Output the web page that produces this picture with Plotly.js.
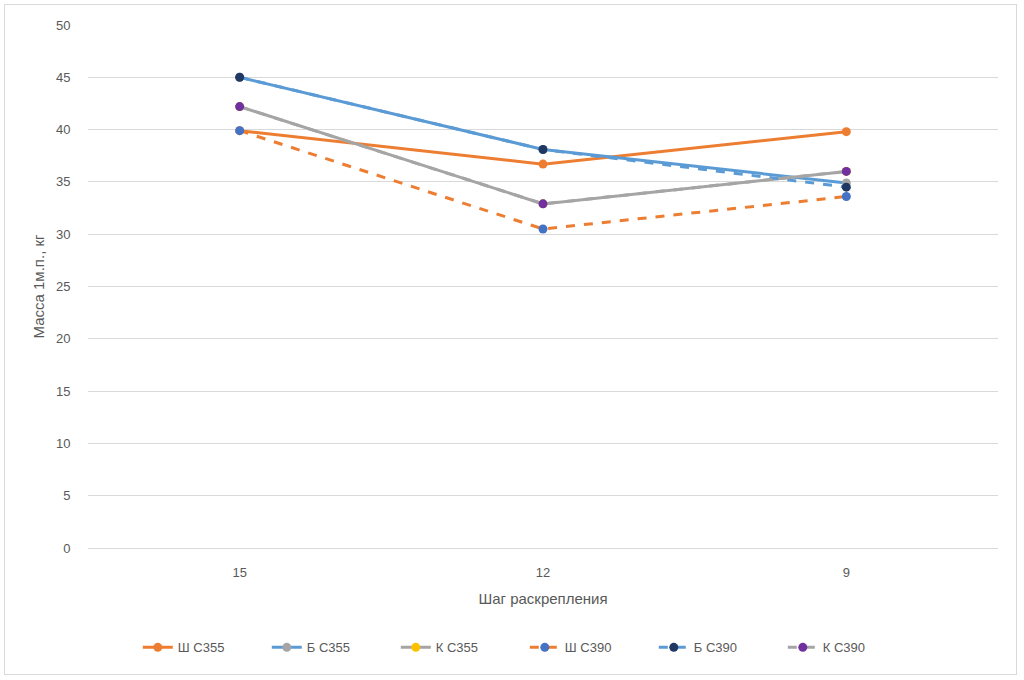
<!DOCTYPE html>
<html><head><meta charset="utf-8">
<script src="https://cdn.plot.ly/plotly-3.0.1.min.js"></script>
<style>
html,body{margin:0;padding:0;background:#fff;}
#frame{position:absolute;left:4px;top:4px;width:1013px;height:671px;border:1px solid #d9d9d9;box-sizing:border-box;}
#chart{position:absolute;left:0;top:0;width:1024px;height:680px;}
</style></head>
<body>
<div id="frame"></div>
<div id="chart"></div>
<script>
const categories = ['15', '12', '9'];
const seriesNames = ['Ш С355', 'Б С355', 'К С355', 'Ш С390', 'Б С390', 'К С390'];
const sh355 = [39.9, 36.7, 39.8];
const b355 = [45.0, 38.1, 34.9];
const k355 = [42.2, 32.9, 36.0];
const sh390 = [39.9, 30.5, 33.6];
const b390 = [45.0, 38.1, 34.5];
const k390 = [42.2, 32.9, 36.0];

const values = [sh355, b355, k355, sh390, b390, k390];
const lineColors = ['#ED7D31', '#5B9BD5', '#A5A5A5', '#ED7D31', '#5B9BD5', '#A5A5A5'];
const markerColors = ['#ED7D31', '#A5A5A5', '#FFC000', '#4472C4', '#1F3864', '#7030A0'];
const dashes = ['solid', 'solid', 'solid', 'dash', 'dash', 'dash'];

const traces = values.map((v, i) => ({
  type: 'scatter', mode: 'lines+markers',
  x: categories, y: v, name: seriesNames[i],
  line: {color: lineColors[i], width: 3, dash: dashes[i]},
  marker: {color: markerColors[i], size: 9, line: {width: 0}}
}));

const layout = {
  width: 1024, height: 680,
  margin: {l: 88, r: 26, t: 25, b: 132},
  paper_bgcolor: 'rgba(0,0,0,0)', plot_bgcolor: 'rgba(0,0,0,0)',
  font: {family: 'Liberation Sans, Arial, sans-serif', size: 13, color: '#595959'},
  xaxis: {
    type: 'category', range: [-0.5, 2.5], automargin: false,
    showgrid: false, zeroline: false,
    showline: true, linecolor: '#d9d9d9', linewidth: 1,
    ticks: 'outside', ticklen: 12, tickcolor: 'rgba(0,0,0,0)',
    tickfont: {size: 13, color: '#595959'},
    title: {text: 'Шаг раскрепления', font: {size: 15, color: '#595959'}, standoff: 14}
  },
  yaxis: {
    range: [0, 50], dtick: 5, tick0: 0, automargin: false,
    showgrid: true, gridcolor: '#d9d9d9', gridwidth: 1,
    zeroline: false, showline: false,
    ticks: 'outside', ticklen: 14, tickcolor: 'rgba(0,0,0,0)',
    tickfont: {size: 13, color: '#595959'},
    title: {text: 'Масса 1м.п., кг', font: {size: 15, color: '#595959'}, standoff: 7}
  },
  showlegend: true,
  legend: {
    orientation: 'h', x: 0.48, xanchor: 'center', y: -0.19, yanchor: 'middle',
    font: {size: 13, color: '#595959'},
    entrywidth: 84, entrywidthmode: 'pixels',
    bgcolor: 'rgba(0,0,0,0)'
  }
};
Plotly.newPlot('chart', traces, layout, {displayModeBar: false, staticPlot: true});
</script>
</body></html>
